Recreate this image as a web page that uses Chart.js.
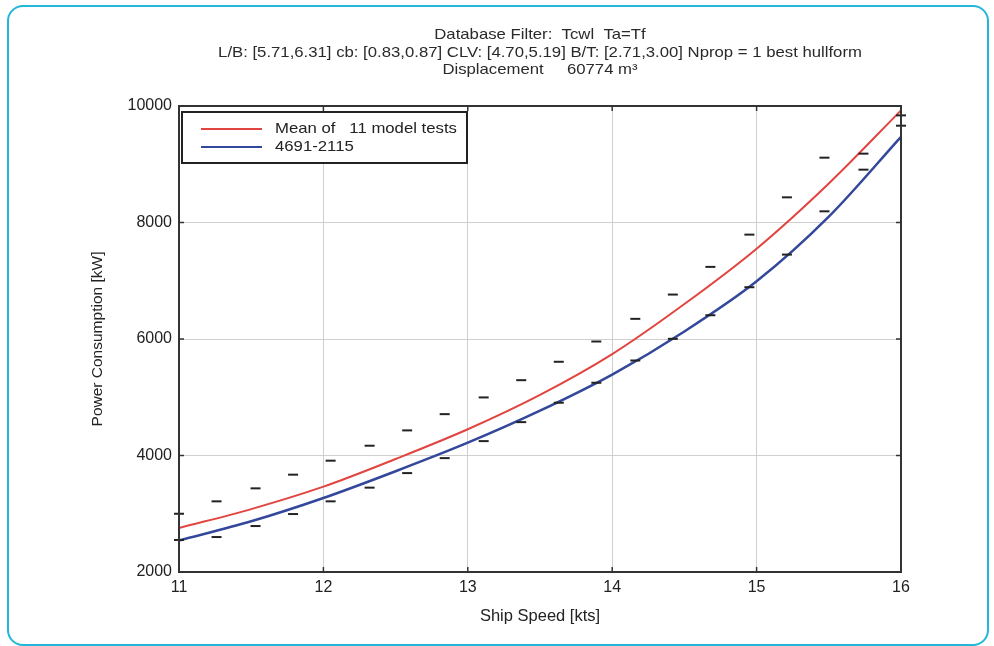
<!DOCTYPE html>
<html>
<head>
<meta charset="utf-8">
<script src="https://cdn.jsdelivr.net/npm/chart.js@4.4.0/dist/chart.umd.min.js"></script>
<style>
  body { margin: 0; background: #fff; }
  #wrap { position: relative; width: 994px; height: 646px; }
  #chart { position: absolute; left: 0; top: 0; }
  #frame {
    position: absolute; left: 7px; top: 5px; width: 982px; height: 641px;
    box-sizing: border-box; border: 2px solid #22b6d9; border-radius: 16px;
    pointer-events: none;
  }
</style>
</head>
<body>
<div id="wrap">
  <canvas id="chart" width="994" height="646"></canvas>
  <div id="frame"></div>
</div>
<script>
// axis ticks
const speedTicks = [11, 12, 13, 14, 15, 16];
const powerTicks = [2000, 4000, 6000, 8000, 10000];

// fitted curves
const curveSpeeds = [11, 11.5, 12, 12.5, 13, 13.5, 14, 14.5, 15, 15.5, 16];
const meanPower = [2755, 3080, 3465, 3940, 4450, 5040, 5740, 6600, 7550, 8670, 9925];
const hullPower = [2540, 2870, 3270, 3730, 4220, 4770, 5390, 6130, 6990, 8100, 9470];

// model test spread (upper / lower dashes)
const testSpeeds = [11, 11.26, 11.53, 11.79, 12.05, 12.32, 12.58, 12.84, 13.11, 13.37,
                    13.63, 13.89, 14.16, 14.42, 14.68, 14.95, 15.21, 15.47, 15.74, 16];
const testUpper = [3000, 3213, 3436, 3671, 3911, 4168, 4431, 4710, 4997, 5293,
                   5609, 5957, 6346, 6763, 7238, 7792, 8432, 9113, 9182, 9839];
const testLower = [2550, 2600, 2789, 2995, 3213, 3448, 3698, 3955, 4247, 4573,
                   4906, 5249, 5631, 6003, 6408, 6889, 7449, 8192, 8907, 9662];

const titleLines = [
    'Database Filter:  Tcwl  Ta=Tf',
    'L/B: [5.71,6.31] cb: [0.83,0.87] CLV: [4.70,5.19] B/T: [2.71,3.00] Nprop = 1 best hullform',
    'Displacement     60774 m³'
];
const legendItems = [
    { label: 'Mean of   11 model tests', color: '#e2443f' },
    { label: '4691-2115', color: '#33479b' }
];

const FONT = '"Liberation Sans", Arial, sans-serif';
const STRETCH = 1.115; // the original text is drawn a bit wide

function pairs(xs, ys) {
    return xs.map((x, i) => ({ x: x, y: ys[i] }));
}

function wideText(ctx, text, x, y) {
    ctx.save();
    ctx.translate(x, y);
    ctx.scale(STRETCH, 1);
    ctx.fillText(text, 0, 0);
    ctx.restore();
}

// title, plot box, inward ticks and legend box
const decorations = {
    id: 'decorations',
    afterDraw(chart) {
        const ctx = chart.ctx;
        const area = chart.chartArea;
        const xs = chart.scales.x, ys = chart.scales.y;
        ctx.save();

        // title
        ctx.fillStyle = '#2a2a2a';
        ctx.font = '15px ' + FONT;
        ctx.textAlign = 'center';
        ctx.textBaseline = 'middle';
        const cx = (area.left + area.right) / 2;
        titleLines.forEach((t, i) => wideText(ctx, t, cx, 35 + i * 17.5));

        // plot box
        ctx.strokeStyle = '#333';
        ctx.lineWidth = 2;
        ctx.strokeRect(area.left, area.top, area.right - area.left, area.bottom - area.top);

        // inward tick marks
        ctx.lineWidth = 1.5;
        ctx.beginPath();
        speedTicks.forEach(v => {
            const px = xs.getPixelForValue(v);
            ctx.moveTo(px, area.bottom); ctx.lineTo(px, area.bottom - 5);
            ctx.moveTo(px, area.top); ctx.lineTo(px, area.top + 5);
        });
        powerTicks.forEach(v => {
            const py = ys.getPixelForValue(v);
            ctx.moveTo(area.left, py); ctx.lineTo(area.left + 5, py);
            ctx.moveTo(area.right, py); ctx.lineTo(area.right - 5, py);
        });
        ctx.stroke();

        // legend
        const lx = area.left + 3, ly = area.top + 6;
        ctx.fillStyle = '#fff';
        ctx.fillRect(lx, ly, 285, 51);
        ctx.strokeStyle = '#222';
        ctx.lineWidth = 2;
        ctx.strokeRect(lx, ly, 285, 51);
        ctx.font = '15px ' + FONT;
        ctx.textAlign = 'left';
        legendItems.forEach((item, i) => {
            const y = ly + 17 + i * 18;
            ctx.strokeStyle = item.color;
            ctx.lineWidth = 2;
            ctx.beginPath();
            ctx.moveTo(lx + 19, y); ctx.lineTo(lx + 80, y);
            ctx.stroke();
            ctx.fillStyle = '#222';
            wideText(ctx, item.label, lx + 93, y);
        });
        ctx.restore();
    }
};

const dashStyle = {
    type: 'scatter',
    showLine: false,
    pointStyle: 'line',
    pointRadius: 5,
    pointBorderWidth: 2,
    pointBorderColor: '#222',
    pointBackgroundColor: '#222',
    clip: false
};

new Chart(document.getElementById('chart'), {
    type: 'line',
    data: {
        datasets: [
            Object.assign({ label: 'upper', data: pairs(testSpeeds, testUpper) }, dashStyle),
            Object.assign({ label: 'lower', data: pairs(testSpeeds, testLower) }, dashStyle),
            {
                label: legendItems[0].label,
                data: pairs(curveSpeeds, meanPower),
                borderColor: legendItems[0].color,
                borderWidth: 2,
                pointRadius: 0,
                cubicInterpolationMode: 'monotone',
                fill: false
            },
            {
                label: legendItems[1].label,
                data: pairs(curveSpeeds, hullPower),
                borderColor: legendItems[1].color,
                borderWidth: 2.5,
                pointRadius: 0,
                cubicInterpolationMode: 'monotone',
                fill: false
            }
        ]
    },
    options: {
        responsive: false,
        animation: false,
        layout: { padding: { left: 0, top: 106, right: 93, bottom: 0 } },
        plugins: {
            legend: { display: false },
            tooltip: { enabled: false }
        },
        scales: {
            x: {
                type: 'linear',
                min: 11,
                max: 16,
                afterBuildTicks: s => { s.ticks = speedTicks.map(v => ({ value: v })); },
                afterFit: s => { s.height = 74; },
                grid: { color: '#cfcfcf', lineWidth: 1, drawTicks: false },
                border: { display: false },
                ticks: {
                    color: '#222', font: { family: FONT, size: 16 }, padding: 6,
                    callback: v => String(v)
                },
                title: {
                    display: true,
                    text: 'Ship Speed [kts]',
                    color: '#222',
                    font: { family: FONT, size: 16.5 },
                    padding: { top: 0, bottom: 20 }
                }
            },
            y: {
                type: 'linear',
                min: 2000,
                max: 10000,
                afterBuildTicks: s => { s.ticks = powerTicks.map(v => ({ value: v })); },
                afterFit: s => { s.width = 179; },
                grid: { color: '#cfcfcf', lineWidth: 1, drawTicks: false },
                border: { display: false },
                ticks: {
                    color: '#222', font: { family: FONT, size: 16 }, padding: 7,
                    callback: v => String(v)
                },
                title: {
                    display: true,
                    text: 'Power Consumption [kW]',
                    color: '#222',
                    font: { family: FONT, size: 15.5 },
                    padding: { top: 88, bottom: 0 }
                }
            }
        }
    },
    plugins: [decorations]
});
</script>
</body>
</html>
